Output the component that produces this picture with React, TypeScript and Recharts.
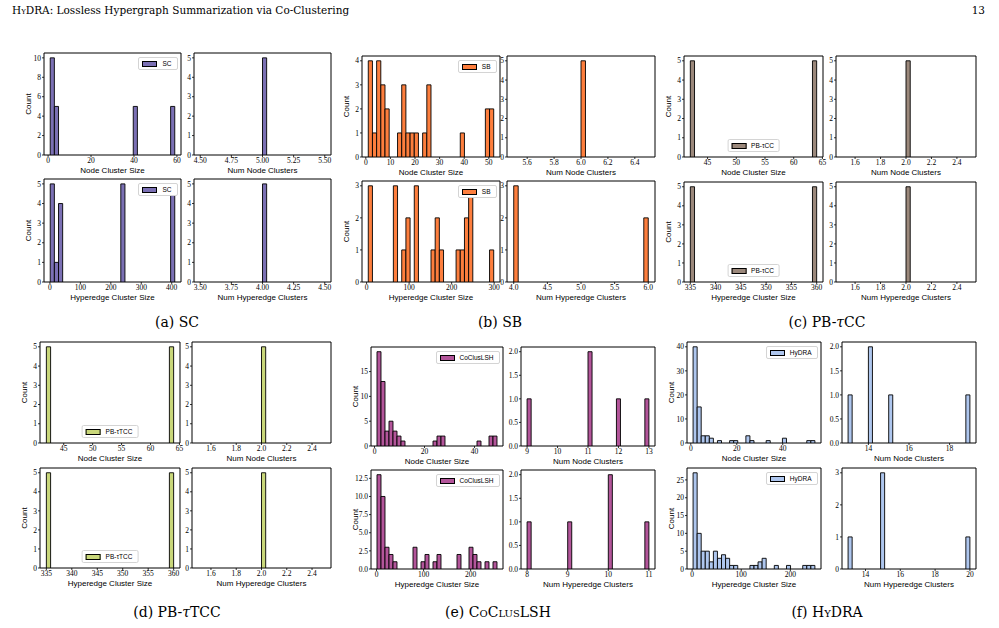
import React from 'react';
import { BarChart, Bar, XAxis, YAxis, ReferenceArea } from 'recharts';

// Every histogram uses 30 equal bins over [lo, hi]; the bin lists hold [binIndex, count] for the non-empty bins.

// (a) SC
const scNodeSizeRange = [1, 59];
const scNodeSizeBins = [[0, 10], [1, 5], [20, 5], [29, 5]];
const scNumNodeRange = [4.5, 5.5];
const scNumNodeBins = [[15, 5]];
const scEdgeSizeRange = [1, 410];
const scEdgeSizeBins = [[0, 5], [1, 1], [2, 4], [17, 5], [29, 5]];
const scNumEdgeRange = [3.5, 4.5];
const scNumEdgeBins = [[15, 5]];

// (b) SB
const sbNodeSizeRange = [1, 52];
const sbNodeSizeBins = [[0, 4], [1, 1], [2, 4], [3, 3], [4, 2], [7, 1], [8, 3], [9, 1], [10, 1], [11, 1], [13, 1], [14, 3], [22, 1], [28, 2], [29, 2]];
const sbNumNodeRange = [5.5, 6.5];
const sbNumNodeBins = [[15, 5]];
const sbEdgeSizeRange = [4, 299];
const sbEdgeSizeBins = [[0, 3], [6, 3], [8, 1], [9, 2], [11, 3], [15, 1], [16, 2], [17, 1], [21, 1], [22, 1], [23, 2], [24, 3], [29, 1]];
const sbNumEdgeRange = [4, 6];
const sbNumEdgeBins = [[0, 3], [29, 2]];

// (c) PB-τCC
const pbccNodeSizeRange = [42, 64];
const pbccNodeSizeBins = [[0, 5], [29, 5]];
const pbccNumNodeRange = [1.5, 2.5];
const pbccNumNodeBins = [[15, 5]];
const pbccEdgeSizeRange = [335, 360];
const pbccEdgeSizeBins = [[0, 5], [29, 5]];
const pbccNumEdgeRange = [1.5, 2.5];
const pbccNumEdgeBins = [[15, 5]];

// (d) PB-τTCC
const pbtccNodeSizeRange = [42, 64];
const pbtccNodeSizeBins = [[0, 5], [29, 5]];
const pbtccNumNodeRange = [1.5, 2.5];
const pbtccNumNodeBins = [[15, 5]];
const pbtccEdgeSizeRange = [335, 360];
const pbtccEdgeSizeBins = [[0, 5], [29, 5]];
const pbtccNumEdgeRange = [1.5, 2.5];
const pbtccNumEdgeBins = [[15, 5]];

// (e) CoClusLSH
const lshNodeSizeRange = [1, 49];
const lshNodeSizeBins = [[0, 19], [1, 13], [2, 3], [3, 5], [4, 3], [5, 2], [6, 1], [14, 1], [15, 2], [16, 2], [25, 1], [28, 2], [29, 2]];
const lshNumNodeRange = [9, 13];
const lshNumNodeBins = [[0, 1], [15, 2], [22, 1], [29, 1]];
const lshEdgeSizeRange = [1, 256];
const lshEdgeSizeBins = [[0, 13], [1, 10], [2, 3], [3, 2], [4, 1], [9, 3], [11, 1], [12, 2], [14, 1], [15, 2], [20, 2], [23, 3], [24, 2], [25, 1], [27, 1], [29, 1]];
const lshNumEdgeRange = [8, 11];
const lshNumEdgeBins = [[0, 1], [10, 1], [20, 2], [29, 1]];

// (f) HyDRA
const hydraNodeSizeRange = [1, 54];
const hydraNodeSizeBins = [[0, 40], [1, 15], [2, 3], [3, 3], [4, 2], [6, 1], [9, 1], [10, 1], [13, 3], [14, 1], [18, 1], [22, 2], [28, 1], [29, 1]];
const hydraNumNodeRange = [13, 19];
const hydraNumNodeBins = [[0, 1], [5, 2], [10, 1], [29, 1]];
const hydraEdgeSizeRange = [2, 250];
const hydraEdgeSizeBins = [[0, 27], [1, 10], [2, 5], [3, 5], [4, 2], [5, 5], [6, 3], [7, 4], [8, 3], [9, 1], [10, 1], [14, 1], [15, 1], [16, 2], [17, 3], [20, 1], [23, 1], [27, 1], [28, 1], [29, 1]];
const hydraNumEdgeRange = [13, 20];
const hydraNumEdgeBins = [[0, 1], [8, 3], [29, 1]];

// tick labels
const yTicks0to5 = [0, 1, 2, 3, 4, 5];
const yTicks0to4 = [0, 1, 2, 3, 4];
const yTicks0to3 = [0, 1, 2, 3];
const yTicksEven10 = [0, 2, 4, 6, 8, 10];
const yTicksHalf2 = [0, 0.5, 1, 1.5, 2];
const yTicksBy5to15 = [0, 5, 10, 15];
const yTicksBy2p5 = [0, 2.5, 5, 7.5, 10, 12.5];
const yTicksBy10 = [0, 10, 20, 30, 40];
const yTicksBy5to25 = [0, 5, 10, 15, 20, 25];

const scNodeTicks = [0, 20, 40, 60];
const scNumNodeTicks = [4.5, 4.75, 5, 5.25, 5.5];
const scEdgeTicks = [0, 100, 200, 300, 400];
const scNumEdgeTicks = [3.5, 3.75, 4, 4.25, 4.5];
const sbNodeTicks = [0, 10, 20, 30, 40, 50];
const sbNumNodeTicks = [5.6, 5.8, 6.0, 6.2, 6.4];
const sbEdgeTicks = [0, 100, 200, 300];
const sbNumEdgeTicks = [4, 4.5, 5, 5.5, 6];
const pbNodeTicks = [45, 50, 55, 60, 65];
const pbNumTicks = [1.6, 1.8, 2.0, 2.2, 2.4];
const pbEdgeTicks = [335, 340, 345, 350, 355, 360];
const lshNodeTicks = [0, 20, 40];
const lshNumNodeTicks = [9, 10, 11, 12, 13];
const lshEdgeTicks = [0, 100, 200];
const lshNumEdgeTicks = [8, 9, 10, 11];
const hydraNodeTicks = [0, 20, 40];
const hydraNumNodeTicks = [14, 16, 18];
const hydraEdgeTicks = [0, 100, 200];
const hydraNumEdgeTicks = [14, 16, 18, 20];

const BINS = 30;
const L = 30;
const R = 10;
const T = 2;
const B = 24;

const tickFont = { fontSize: 7.5, fontFamily: 'Liberation Serif', fill: '#000' };
const labelFont = { fontSize: 8, fontFamily: 'Liberation Sans', fill: '#000' };

type Box = [number, number, number, number];

type HistProps = {
  box: Box;
  range: number[];
  bins: number[][];
  color: string;
  xTicks: number[];
  yTicks: number[];
  xDigits?: number;
  yDigits?: number;
  xLabel: string;
  count?: boolean;
};

const countLabel = (props: any) => {
  const { x, y, width, height } = props.viewBox;
  const cx = x + width - 16;
  const cy = y + height / 2;
  return (
    <text x={cx} y={cy} transform={`rotate(-90 ${cx} ${cy})`} textAnchor="middle" dominantBaseline="central" {...labelFont}>
      Count
    </text>
  );
};

const axisTitle = (text: string) => (props: any) => {
  const { x, y, width } = props.viewBox;
  return (
    <text x={x + width / 2} y={y + 18} textAnchor="middle" {...labelFont}>
      {text}
    </text>
  );
};

function Hist({ box, range, bins, color, xTicks, yTicks, xDigits = 0, yDigits = 0, xLabel, count }: HistProps) {
  const [x0, y0, x1, y1] = box;
  const w = x1 - x0;
  const h = y1 - y0;
  const [lo, hi] = range;
  const step = (hi - lo) / BINS;
  const counts = new Array(BINS).fill(0);
  bins.forEach(([i, n]) => {
    counts[i] = n;
  });
  const data = counts.map((n, i) => ({ x: lo + (i + 0.5) * step, n }));
  const pad = (hi - lo) * 0.05;
  const top = Math.max(...counts) * 1.05;

  return (
    <div style={{ position: 'absolute', left: x0 - L, top: y0 - T }}>
      <BarChart
        width={w + L + R}
        height={h + T + B}
        data={data}
        margin={{ top: T, right: R, bottom: 0, left: 0 }}
        style={{ overflow: 'visible' }}
      >
        <XAxis
          type="number"
          dataKey="x"
          domain={[lo - pad, hi + pad]}
          allowDataOverflow
          ticks={xTicks}
          interval={0}
          tickFormatter={(v: number) => v.toFixed(xDigits)}
          tickSize={2}
          tickMargin={1}
          height={B}
          axisLine={false}
          tickLine={{ stroke: '#000', strokeWidth: 0.8 }}
          tick={tickFont}
          label={{ content: axisTitle(xLabel) }}
        />
        <YAxis
          type="number"
          domain={[0, top]}
          allowDataOverflow
          ticks={yTicks}
          interval={0}
          tickFormatter={(v: number) => v.toFixed(yDigits)}
          tickSize={2}
          tickMargin={1}
          width={L}
          axisLine={false}
          tickLine={{ stroke: '#000', strokeWidth: 0.8 }}
          tick={tickFont}
          label={count ? { content: countLabel } : undefined}
        />
        <Bar dataKey="n" fill={color} stroke="#000" strokeWidth={0.9} barSize={w / 33 - 0.01} isAnimationActive={false} />
        <ReferenceArea x1={lo - pad} x2={hi + pad} y1={0} y2={top} fill="none" stroke="#000" strokeWidth={1} />
      </BarChart>
    </div>
  );
}

function LegendBox({ box, name, color, place }: { box: Box; name: string; color: string; place: 'ur' | 'lc' }) {
  const [x0, y0, x1, y1] = box;
  const pos: React.CSSProperties =
    place === 'ur'
      ? { right: 999 - (x1 - 3.5), top: y0 + 4 }
      : { left: (x0 + x1) / 2, bottom: 628 - (y1 - 5), transform: 'translateX(-50%)' };
  return (
    <div
      style={{
        position: 'absolute',
        ...pos,
        display: 'flex',
        alignItems: 'center',
        gap: 5,
        padding: '2px 5px 2px 3px',
        background: '#fff',
        border: '1px solid #d4d4d4',
        borderRadius: 2,
        fontFamily: 'Liberation Sans',
        fontSize: 6.5,
        lineHeight: '7px',
        whiteSpace: 'nowrap',
      }}
    >
      <span style={{ display: 'inline-block', width: 13, height: 4, background: color, border: '1px solid #000' }} />
      <span>{name}</span>
    </div>
  );
}

type Panel = { range: number[]; bins: number[][]; xTicks: number[]; yTicks: number[]; xDigits?: number; yDigits?: number };

type Group = {
  name: string;
  color: string;
  left: [number, number];
  right: [number, number];
  topRow: [number, number];
  bottomRow: [number, number];
  legend: 'ur' | 'lc';
  node: Panel;
  numNode: Panel;
  edge: Panel;
  numEdge: Panel;
  caption: React.ReactNode;
  captionX: number;
  captionY: number;
};

const groups: Group[] = [
  {
    name: 'SC',
    color: '#7b70b4',
    left: [44, 181],
    right: [194, 331],
    topRow: [53, 155],
    bottomRow: [179, 282],
    legend: 'ur',
    node: { range: scNodeSizeRange, bins: scNodeSizeBins, xTicks: scNodeTicks, yTicks: yTicksEven10 },
    numNode: { range: scNumNodeRange, bins: scNumNodeBins, xTicks: scNumNodeTicks, yTicks: yTicks0to5, xDigits: 2 },
    edge: { range: scEdgeSizeRange, bins: scEdgeSizeBins, xTicks: scEdgeTicks, yTicks: yTicks0to5 },
    numEdge: { range: scNumEdgeRange, bins: scNumEdgeBins, xTicks: scNumEdgeTicks, yTicks: yTicks0to5, xDigits: 2 },
    caption: <>(a) SC</>,
    captionX: 177,
    captionY: 322,
  },
  {
    name: 'SB',
    color: '#fd7e3d',
    left: [362, 500],
    right: [507, 655],
    topRow: [56, 157],
    bottomRow: [181, 282],
    legend: 'ur',
    node: { range: sbNodeSizeRange, bins: sbNodeSizeBins, xTicks: sbNodeTicks, yTicks: yTicks0to4 },
    numNode: { range: sbNumNodeRange, bins: sbNumNodeBins, xTicks: sbNumNodeTicks, yTicks: yTicks0to5, xDigits: 1 },
    edge: { range: sbEdgeSizeRange, bins: sbEdgeSizeBins, xTicks: sbEdgeTicks, yTicks: yTicks0to3 },
    numEdge: { range: sbNumEdgeRange, bins: sbNumEdgeBins, xTicks: sbNumEdgeTicks, yTicks: yTicks0to3, xDigits: 1 },
    caption: <>(b) SB</>,
    captionX: 500,
    captionY: 322,
  },
  {
    name: 'PB-τCC',
    color: '#9b887b',
    left: [684, 823],
    right: [836, 976],
    topRow: [56, 157],
    bottomRow: [182, 282],
    legend: 'lc',
    node: { range: pbccNodeSizeRange, bins: pbccNodeSizeBins, xTicks: pbNodeTicks, yTicks: yTicks0to5 },
    numNode: { range: pbccNumNodeRange, bins: pbccNumNodeBins, xTicks: pbNumTicks, yTicks: yTicks0to5, xDigits: 1 },
    edge: { range: pbccEdgeSizeRange, bins: pbccEdgeSizeBins, xTicks: pbEdgeTicks, yTicks: yTicks0to5 },
    numEdge: { range: pbccNumEdgeRange, bins: pbccNumEdgeBins, xTicks: pbNumTicks, yTicks: yTicks0to5, xDigits: 1 },
    caption: (
      <>
        (c) PB-<i>τ</i>CC
      </>
    ),
    captionX: 827,
    captionY: 322,
  },
  {
    name: 'PB-τTCC',
    color: '#c9d77a',
    left: [40, 180],
    right: [192, 331],
    topRow: [342, 443],
    bottomRow: [468, 568],
    legend: 'lc',
    node: { range: pbtccNodeSizeRange, bins: pbtccNodeSizeBins, xTicks: pbNodeTicks, yTicks: yTicks0to5 },
    numNode: { range: pbtccNumNodeRange, bins: pbtccNumNodeBins, xTicks: pbNumTicks, yTicks: yTicks0to5, xDigits: 1 },
    edge: { range: pbtccEdgeSizeRange, bins: pbtccEdgeSizeBins, xTicks: pbEdgeTicks, yTicks: yTicks0to5 },
    numEdge: { range: pbtccNumEdgeRange, bins: pbtccNumEdgeBins, xTicks: pbNumTicks, yTicks: yTicks0to5, xDigits: 1 },
    caption: (
      <>
        (d) PB-<i>τ</i>TCC
      </>
    ),
    captionX: 177,
    captionY: 612,
  },
  {
    name: 'CoClusLSH',
    color: '#b3559a',
    left: [371, 503],
    right: [521, 655],
    topRow: [347, 446],
    bottomRow: [470, 569],
    legend: 'ur',
    node: { range: lshNodeSizeRange, bins: lshNodeSizeBins, xTicks: lshNodeTicks, yTicks: yTicksBy5to15 },
    numNode: { range: lshNumNodeRange, bins: lshNumNodeBins, xTicks: lshNumNodeTicks, yTicks: yTicksHalf2, yDigits: 1 },
    edge: { range: lshEdgeSizeRange, bins: lshEdgeSizeBins, xTicks: lshEdgeTicks, yTicks: yTicksBy2p5, yDigits: 1 },
    numEdge: { range: lshNumEdgeRange, bins: lshNumEdgeBins, xTicks: lshNumEdgeTicks, yTicks: yTicksHalf2, yDigits: 1 },
    caption: (
      <>
        (e) <span style={{ fontVariant: 'small-caps' }}>CoClusLSH</span>
      </>
    ),
    captionX: 498,
    captionY: 612,
  },
  {
    name: 'HyDRA',
    color: '#aec6ee',
    left: [687, 821],
    right: [842, 976],
    topRow: [342, 443],
    bottomRow: [468, 569],
    legend: 'ur',
    node: { range: hydraNodeSizeRange, bins: hydraNodeSizeBins, xTicks: hydraNodeTicks, yTicks: yTicksBy10 },
    numNode: { range: hydraNumNodeRange, bins: hydraNumNodeBins, xTicks: hydraNumNodeTicks, yTicks: yTicksHalf2, yDigits: 1 },
    edge: { range: hydraEdgeSizeRange, bins: hydraEdgeSizeBins, xTicks: hydraEdgeTicks, yTicks: yTicksBy5to25 },
    numEdge: { range: hydraNumEdgeRange, bins: hydraNumEdgeBins, xTicks: hydraNumEdgeTicks, yTicks: yTicks0to3 },
    caption: (
      <>
        (f) <span style={{ fontVariant: 'small-caps' }}>HyDRA</span>
      </>
    ),
    captionX: 827,
    captionY: 612,
  },
];

function GroupFigure({ g }: { g: Group }) {
  const tl: Box = [g.left[0], g.topRow[0], g.left[1], g.topRow[1]];
  const tr: Box = [g.right[0], g.topRow[0], g.right[1], g.topRow[1]];
  const bl: Box = [g.left[0], g.bottomRow[0], g.left[1], g.bottomRow[1]];
  const br: Box = [g.right[0], g.bottomRow[0], g.right[1], g.bottomRow[1]];
  return (
    <>
      <Hist box={tl} {...g.node} color={g.color} xLabel="Node Cluster Size" count />
      <Hist box={tr} {...g.numNode} color={g.color} xLabel="Num Node Clusters" />
      <Hist box={bl} {...g.edge} color={g.color} xLabel="Hyperedge Cluster Size" count />
      <Hist box={br} {...g.numEdge} color={g.color} xLabel="Num Hyperedge Clusters" />
      <LegendBox box={tl} name={g.name} color={g.color} place={g.legend} />
      <LegendBox box={bl} name={g.name} color={g.color} place={g.legend} />
      <div
        style={{
          position: 'absolute',
          left: g.captionX,
          top: g.captionY,
          transform: 'translate(-50%, -50%)',
          fontFamily: 'DejaVu Serif',
          fontSize: 14,
          whiteSpace: 'nowrap',
        }}
      >
        {g.caption}
      </div>
    </>
  );
}

export default function App() {
  return (
    <div style={{ position: 'absolute', left: 0, top: 0, width: 999, height: 628, background: '#fff', overflow: 'hidden', color: '#000' }}>
      <div style={{ position: 'absolute', left: 12, top: 4, fontFamily: 'DejaVu Serif', fontSize: 10.5, whiteSpace: 'nowrap' }}>
        <span style={{ fontVariant: 'small-caps' }}>HyDRA</span>: Lossless Hypergraph Summarization via Co-Clustering
      </div>
      <div style={{ position: 'absolute', right: 14, top: 4, fontFamily: 'DejaVu Serif', fontSize: 10.5 }}>13</div>
      {groups.map((g) => (
        <GroupFigure key={g.name} g={g} />
      ))}
    </div>
  );
}
